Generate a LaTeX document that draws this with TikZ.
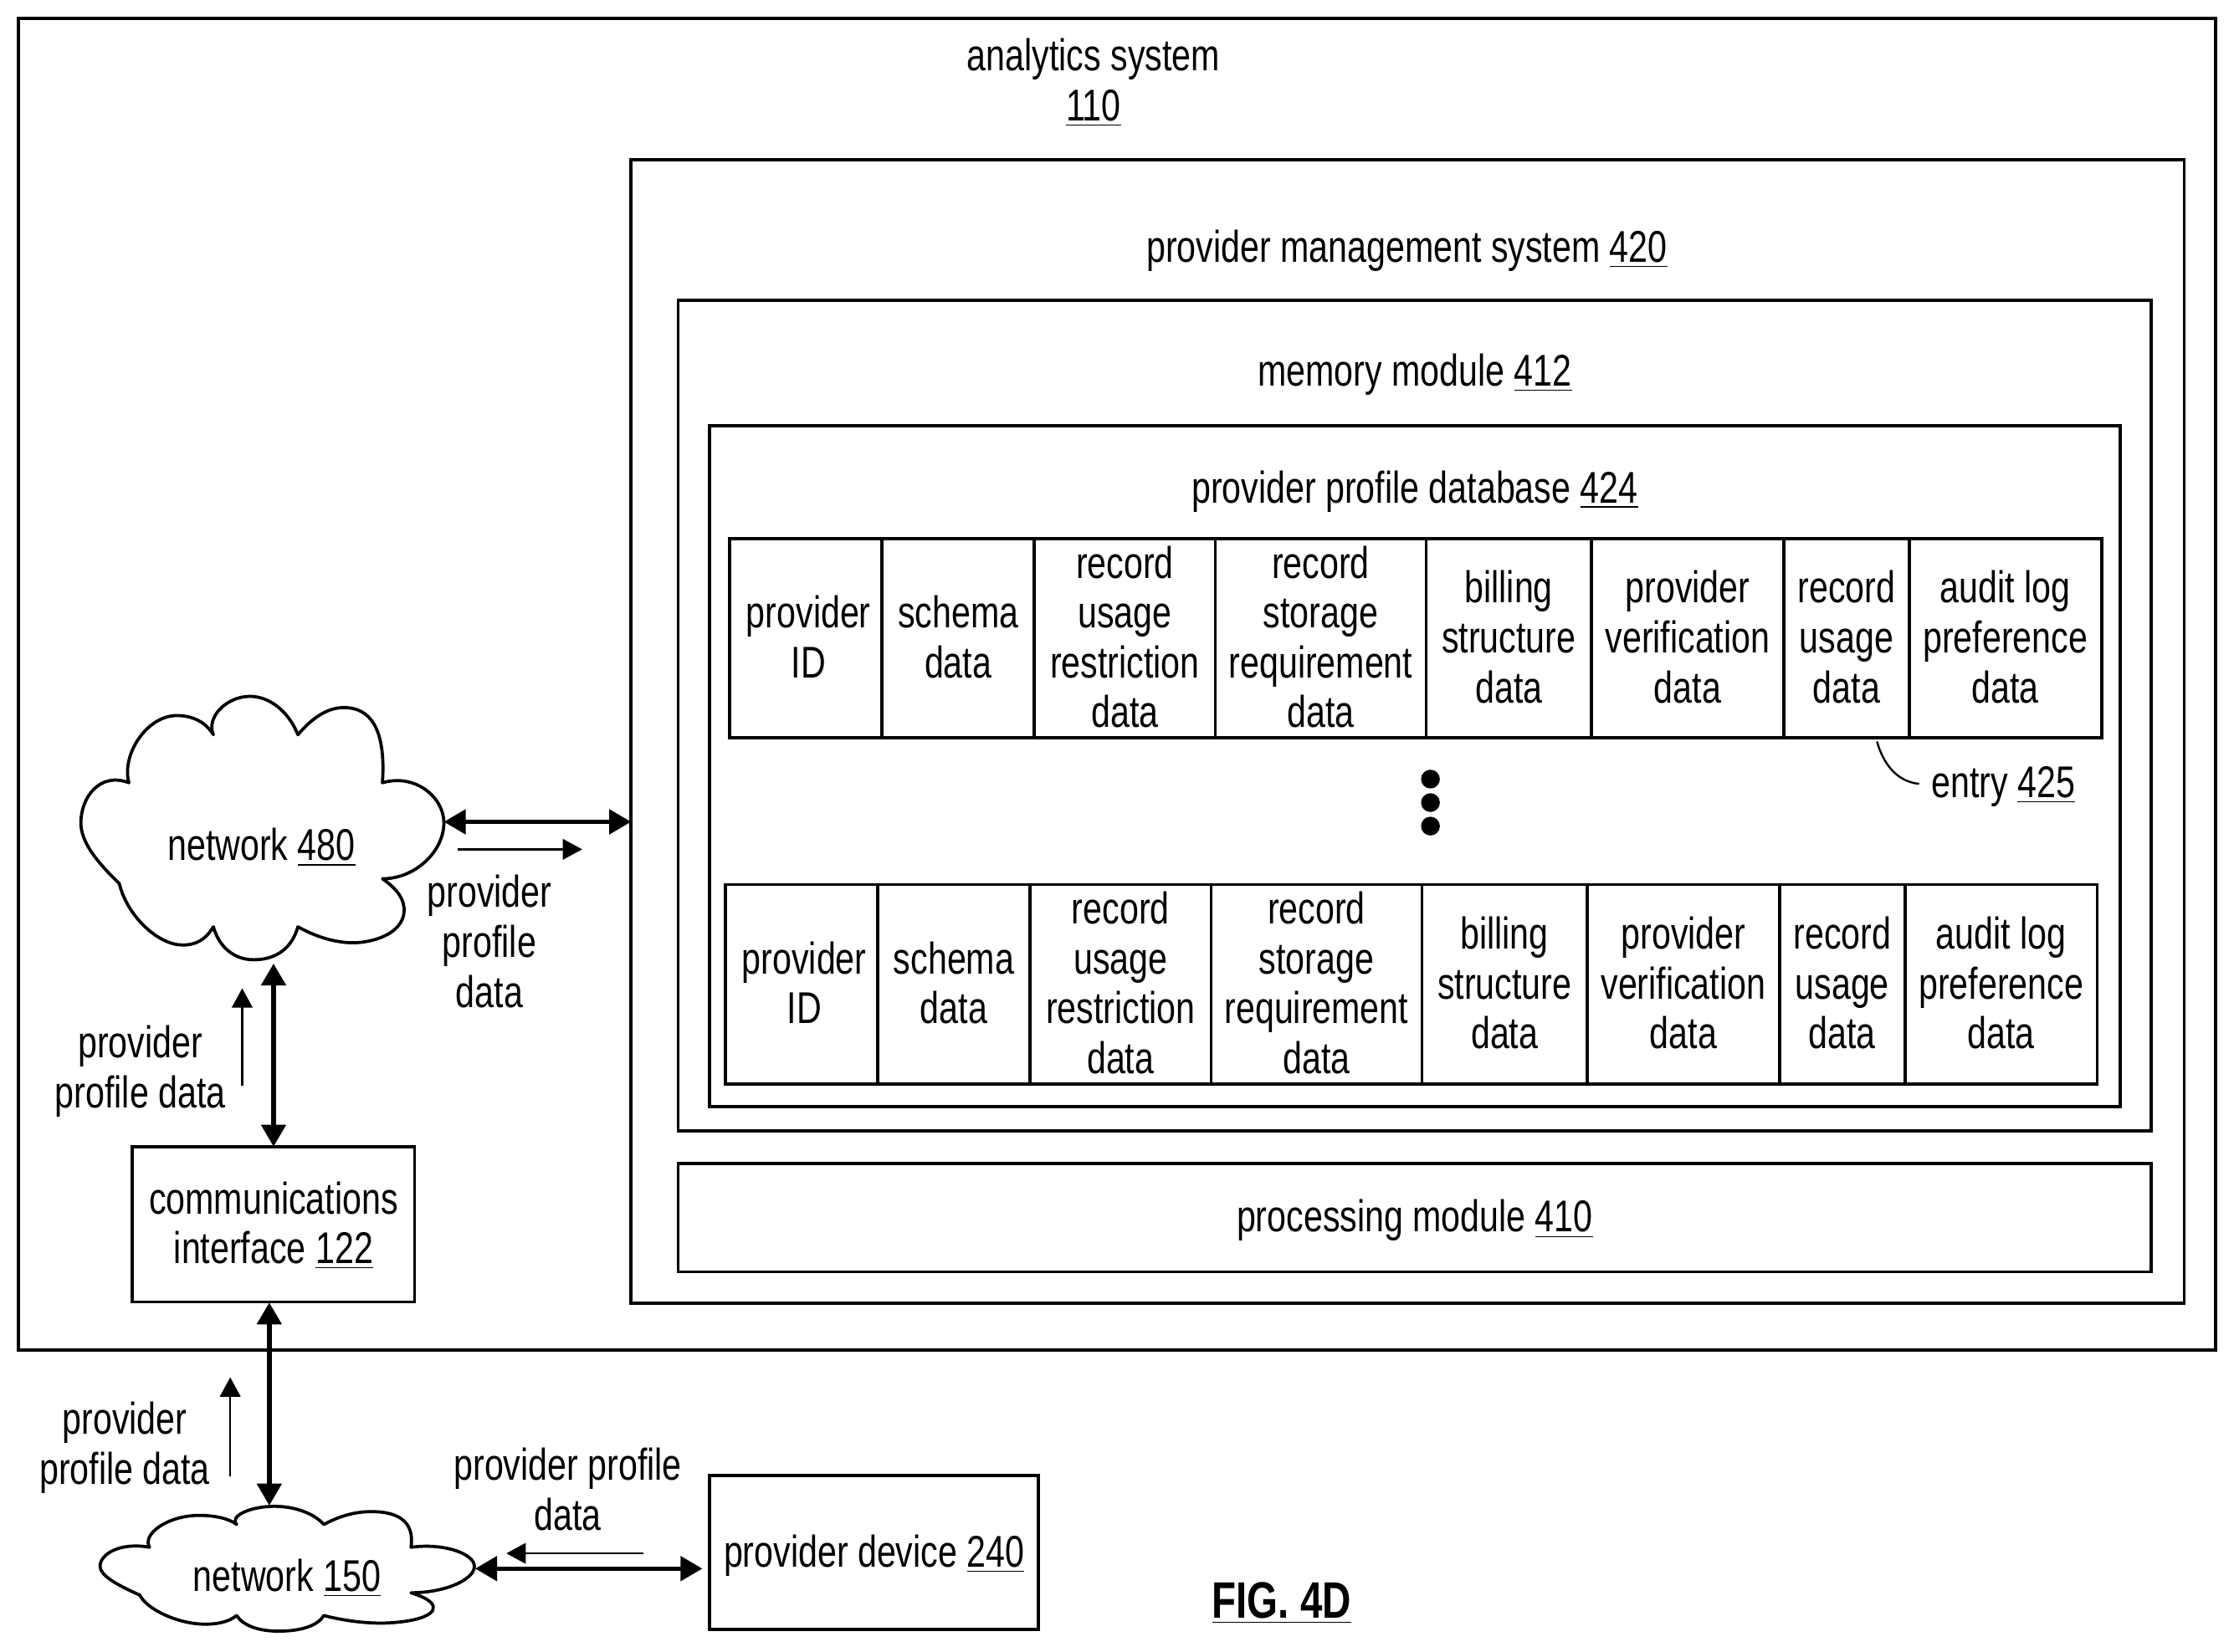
\documentclass[tikz,border=0pt]{standalone}
\usepackage{fontspec}
\setmainfont[FakeStretch=0.775]{Liberation Sans}
\usetikzlibrary{arrows.meta}
\newcommand\und[1]{\smash{\underline{#1}}}
\newcommand\boxn[6]{\node[boxst,minimum width={(#4-#2)*0.5pt},minimum height={(#5-#3)*0.5pt}] (#1) at ({(#2+#4)/2},{(#3+#5)/2}) {#6};}
\newcommand\celln[6]{\boxn{#1}{#2}{#3}{#4}{#5}{#6\rule[-1pt]{0pt}{1pt}}}
\newcommand\lowtxt[1]{\smash{\lower 5pt\hbox{#1}}}
\newcommand\cloudp{(205,355) .. controls (185,270) and (250,145) .. (330,145) .. controls (370,145) and (405,165) .. (425,205)
 .. controls (405,150) and (460,85) .. (520,85) .. controls (570,85) and (620,130) .. (645,205)
 .. controls (680,155) and (720,120) .. (765,120) .. controls (830,120) and (875,180) .. (865,355)
 .. controls (950,325) and (1025,400) .. (1025,480) .. controls (1025,570) and (950,655) .. (865,655)
 .. controls (920,700) and (925,740) .. (920,770) .. controls (905,840) and (820,855) .. (790,855) .. controls (740,855) and (690,835) .. (645,805)
 .. controls (630,870) and (590,908) .. (530,908) .. controls (480,908) and (440,870) .. (425,805)
 .. controls (405,845) and (380,862) .. (345,862) .. controls (280,862) and (200,770) .. (180,670)
 .. controls (120,600) and (80,540) .. (80,480) .. controls (80,400) and (130,320) .. (205,355) -- cycle}
\tikzset{
 boxst/.style={draw=black,line width=1.1pt,inner sep=0pt,outer sep=0pt,align=center,font=\fontsize{15.6}{17.5}\selectfont,text=black},
 lbl/.style={inner sep=0pt,outer sep=0pt,align=center,font=\fontsize{15.6}{17.5}\selectfont,text=black},
 thick arrow/.style={line width=1.6pt,{Triangle[length=7.7pt,width=8.5pt]}-{Triangle[length=7.7pt,width=8.5pt]},shorten <=0pt,shorten >=0pt},
 thin arrow/.style={line width=0.7pt,-{Triangle[length=6.8pt,width=7.2pt]}},
 cloudst/.style={draw=black,line width=1.1pt,line join=round,fill=white},
 dot/.style={circle,fill=black,inner sep=0pt,minimum size=6.6pt}
}
\begin{document}
\begin{tikzpicture}[x=0.5pt,y=-0.5pt]
\useasboundingbox (0,0) rectangle (1568,1159.3);
\fill[white] (0,0) rectangle (1568,1159.3);
\boxn{outer}{13}{13}{1555}{948}{}
\boxn{pms}{443}{112}{1533}{915}{}
\boxn{mem}{476}{211}{1510}{794}{}
\boxn{db}{498}{299}{1488}{777}{}
\boxn{proc}{476}{817}{1510}{893}{\lowtxt{processing module \und{410}}}
\node[lbl] (tout) at (767.5,56) {analytics system\\\und{110}};
\node[lbl] (tpms) at (987.5,176) {provider management system \und{420}};
\node[lbl] (tmem) at (993,263) {memory module \und{412}};
\node[lbl] (tdb) at (993,345) {provider profile database \und{424}};
% row 1
\celln{a1}{512}{378}{619}{518}{\hspace*{2pt}provider\\\hspace*{2pt}ID}
\celln{a2}{619}{378}{726}{518}{schema\\data}
\celln{a3}{726}{378}{853}{518}{record\\usage\\restriction\\data}
\celln{a4}{853}{378}{1001}{518}{record\\storage\\requirement\\data}
\celln{a5}{1001}{378}{1117}{518}{billing\\structure\\data}
\celln{a6}{1117}{378}{1252}{518}{provider\\verification\\data}
\celln{a7}{1252}{378}{1340}{518}{record\\usage\\data}
\celln{a8}{1340}{378}{1475}{518}{audit log\\preference\\data}
% row 2
\celln{b1}{509}{621}{616}{761}{\hspace*{2pt}provider\\\hspace*{2pt}ID}
\celln{b2}{616}{621}{723}{761}{schema\\data}
\celln{b3}{723}{621}{850}{761}{record\\usage\\restriction\\data}
\celln{b4}{850}{621}{998}{761}{record\\storage\\requirement\\data}
\celln{b5}{998}{621}{1114}{761}{billing\\structure\\data}
\celln{b6}{1114}{621}{1249}{761}{provider\\verification\\data}
\celln{b7}{1249}{621}{1337}{761}{record\\usage\\data}
\celln{b8}{1337}{621}{1472}{761}{audit log\\preference\\data}
% dots
\node[dot] (d1) at (1004,547) {};
\node[dot] (d2) at (1004,563.5) {};
\node[dot] (d3) at (1004,580) {};
% entry
\node[lbl] (entry) at (1406,553) {entry \und{425}};
\coordinate (e1) at (1317.4,520.6);
\coordinate (e2) at (1347,550.3);
\draw[line width=0.7pt] (e1) .. controls (1322,537) and (1332,549) .. (e2);
% comm, device
\celln{comm}{93}{805}{291}{914}{communications\\interface \und{122}}
\boxn{dev}{498}{1036}{729}{1144}{\lowtxt{provider device \und{240}}}
% clouds
\begin{scope}[shift={(35.2,469.8)},xscale=0.2696,yscale=0.2247]
\draw[cloudst] \cloudp;
\end{scope}
\begin{scope}[shift={(48,1048.5)},xscale=0.278,yscale=0.1065]
\draw[cloudst] \cloudp;
\end{scope}
\node[lbl] (n480) at (183.5,593) {network \und{480}};
\node[lbl] (n150) at (201.5,1106) {network \und{150}};
\coordinate (c480e) at (311.5,577);
\coordinate (c480s) at (192,676.5);
\coordinate (c150n) at (189,1057);
\coordinate (c150e) at (333.5,1101.3);
\coordinate (devw) at (493,1101.3);
\coordinate (comms) at (189,914.5);
% thick arrows
\draw[thick arrow] (c480e) -- (c480e -| pms.west);
\draw[thick arrow] (c480s) -- (comm.north);
\draw[thick arrow] (comms) -- (c150n);
\draw[thick arrow] (c150e) -- (devw);
% thin arrows
\coordinate (t1a) at (321,596.3);
\coordinate (t1b) at (408.6,596.3);
\coordinate (t2a) at (170,762);
\coordinate (t2b) at (170,693.8);
\coordinate (t3a) at (161.6,1036.4);
\coordinate (t3b) at (161.6,967);
\coordinate (t4a) at (451.8,1090.6);
\coordinate (t4b) at (355.4,1090.6);
\draw[thin arrow] (t1a) -- (t1b);
\draw[thin arrow] (t2a) -- (t2b);
\draw[thin arrow] (t3a) -- (t3b);
\draw[thin arrow] (t4a) -- (t4b);
% labels
\node[lbl] (l1) at (343.5,661) {provider\\profile\\data};
\node[lbl] (l2) at (98.5,752) {provider\\profile data};
\node[lbl] (l3) at (87.5,1016.5) {provider\\profile data};
\node[lbl] (l4) at (398.5,1045.5) {provider profile\\data};
\node[inner sep=0pt,font=\bfseries\fontsize{18}{20}\selectfont] (fig) at (899.5,1136) {\und{FIG. 4D}};
\end{tikzpicture}
\end{document}
